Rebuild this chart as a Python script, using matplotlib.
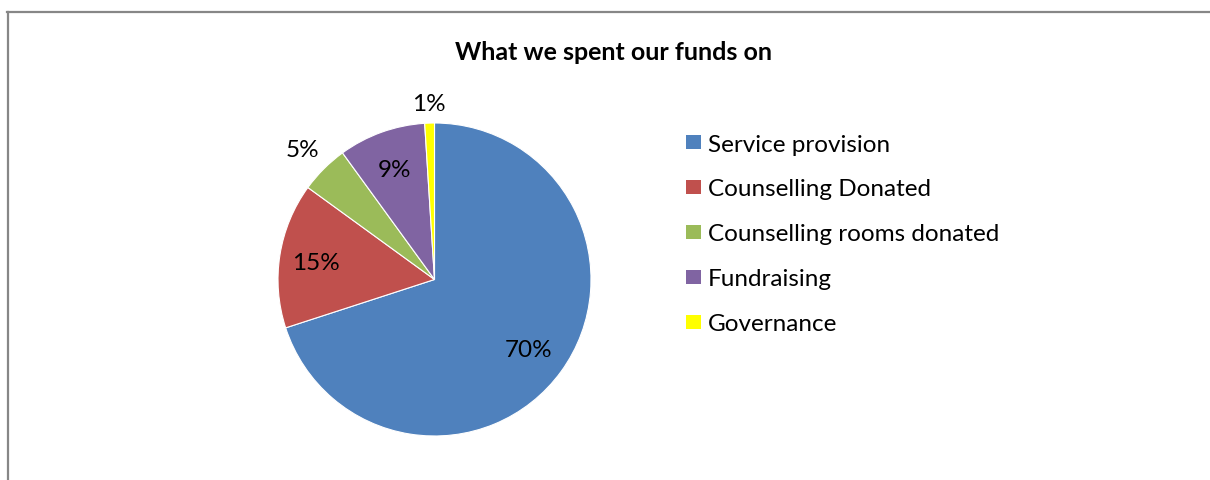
import matplotlib
matplotlib.use("Agg")
import matplotlib.pyplot as plt
from matplotlib.patches import Rectangle
from matplotlib.lines import Line2D
import numpy as np

plt.rcParams['font.family'] = ['Lato', 'DejaVu Sans']

# Spending breakdown
categories = ["Service provision", "Counselling Donated", "Counselling rooms donated",
              "Fundraising", "Governance"]
shares = [70, 15, 5, 9, 1]
colors = ["#4F81BD", "#C0504D", "#9BBB59", "#8064A2", "#FFFF00"]
label_radius = [0.74, 0.77, 1.19, 0.76, 1.14]

W, H = 1210, 481
fig = plt.figure(figsize=(W / 100, H / 100), dpi=100)
fig.patch.set_facecolor("white")

# chart frame (left and top edges visible)
fig.add_artist(Line2D([7.5 / W, 7.5 / W], [0, 1 - 12.5 / H], transform=fig.transFigure,
                      color="#878787", lw=1.6))
fig.add_artist(Line2D([7 / W, 1], [1 - 12.5 / H, 1 - 12.5 / H], transform=fig.transFigure,
                      color="#878787", lw=1.6))

fig.text(613.5 / W, 1 - 51 / H, "What we spent our funds on", ha="center",
         va="center_baseline", fontsize=18, fontweight="bold", color="black")

cx, cy, R = 434.5, 280.5, 156.5
ax = fig.add_axes([(cx - R) / W, 1 - (cy + R) / H, 2 * R / W, 2 * R / H])
wedges, _ = ax.pie(shares, colors=colors, startangle=90, counterclock=False,
                   wedgeprops=dict(edgecolor="white", linewidth=0.8))
ax.set_xlim(-1, 1)
ax.set_ylim(-1, 1)
ax.set_aspect("equal")
ax.axis("off")

for w, v, r in zip(wedges, shares, label_radius):
    mid = np.deg2rad((w.theta1 + w.theta2) / 2)
    ax.text(r * np.cos(mid), r * np.sin(mid), f"{v}%", ha="center", va="center_baseline",
            fontsize=17.5, color="black")

# legend
y0, dy, box = 143, 45, 14.5
for i, (name, c) in enumerate(zip(categories, colors)):
    y = y0 + i * dy
    fig.add_artist(Rectangle((686 / W, 1 - (y + box / 2) / H), box / W, box / H,
                             transform=fig.transFigure, facecolor=c, edgecolor="none"))
    fig.text(708 / W, 1 - y / H, name, ha="left", va="center_baseline", fontsize=17.5,
             color="black")

fig.savefig("out.png", dpi=100, facecolor="white")
